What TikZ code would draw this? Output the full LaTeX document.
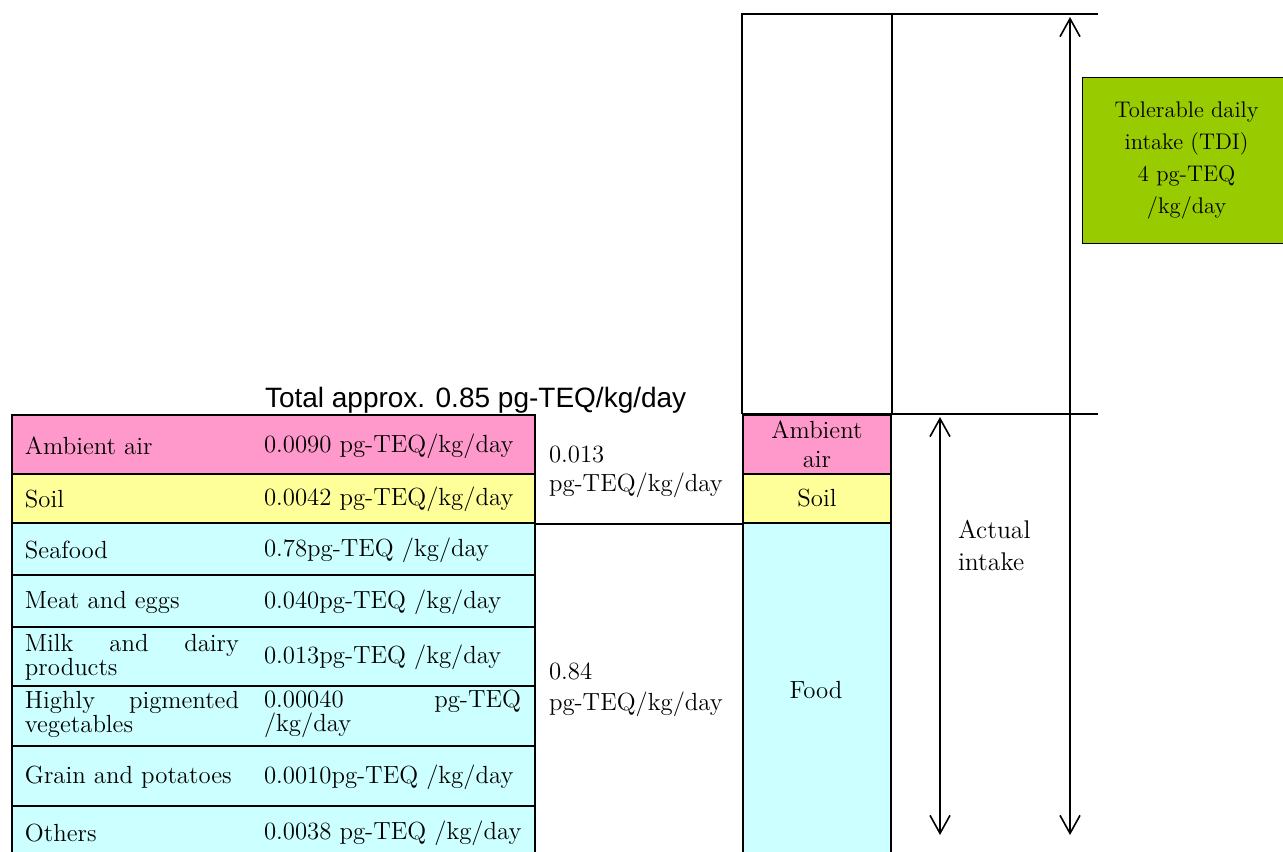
\documentclass[tikz,border=0pt]{standalone}
\usepackage{xcolor}
\usepackage{fontspec}
\newfontfamily\arialfont{Liberation Sans}
\usetikzlibrary{arrows.meta}
\definecolor{airpink}{HTML}{FF99CC}
\definecolor{soilyellow}{HTML}{FFFF99}
\definecolor{foodcyan}{HTML}{CCFFFF}
\definecolor{tdigreen}{HTML}{99CC00}

\begin{document}
\begin{tikzpicture}[x=0.5pt,y=-0.5pt,
			every node/.style={inner sep=0pt,font=\fontsize{12.4}{12}\selectfont},
			cell/.style={draw,line width=1pt,anchor=north west,minimum width=261.5pt},
			barcell/.style={draw,line width=1pt,anchor=north west,minimum width=74pt},
			txt/.style={anchor=west,align=left},
			barb/.style={line width=0.8pt,{Straight Barb[length=9pt,width=10pt]}-{Straight Barb[length=9pt,width=10pt]}},
			line width=1pt]
		\useasboundingbox (0,0) rectangle (1283,851);
		% table on the left
		\node[cell,fill=airpink,minimum height=29.5pt] (air) at (11,414) {};
		\node[cell,fill=soilyellow,minimum height=24.5pt] (soil) at (11,473) {};
		\node[cell,fill=foodcyan,minimum height=26pt] (seafood) at (11,522) {};
		\node[cell,fill=foodcyan,minimum height=26pt] (meat) at (11,574) {};
		\node[cell,fill=foodcyan,minimum height=29.5pt] (milk) at (11,626) {};
		\node[cell,fill=foodcyan,minimum height=30pt] (veg) at (11,685) {};
		\node[cell,fill=foodcyan,minimum height=30pt] (grain) at (11,745) {};
		\node[cell,fill=foodcyan,minimum height=30pt] (others) at (11,805) {};
		\node[txt] (airname) at (24,446) {Ambient air};
		\node[txt] (soilname) at (24,499) {Soil};
		\node[txt] (seafoodname) at (24,550) {Seafood};
		\node[txt] (meatname) at (24,602) {Meat and eggs};
		\node[txt,text width=107pt] (milkname) at (24,657) {Milk\hfill and\hfill dairy\\products};
		\node[txt,text width=107pt] (vegname) at (24,714) {Highly\hfill pigmented\\vegetables};
		\node[txt] (grainname) at (24,777) {Grain and potatoes};
		\node[txt] (othersname) at (24,833) {Others};
		\node[txt] (airval) at (263,446) {0.0090 pg-TEQ/kg/day};
		\node[txt] (soilval) at (263,499) {0.0042 pg-TEQ/kg/day};
		\node[txt] (seafoodval) at (263,550) {0.78pg-TEQ /kg/day};
		\node[txt] (meatval) at (263,602) {0.040pg-TEQ /kg/day};
		\node[txt] (milkval) at (263,657) {0.013pg-TEQ /kg/day};
		\node[txt,text width=128.5pt] (vegval) at (263,714) {0.00040\hfill pg-TEQ\\/kg/day};
		\node[txt] (grainval) at (263,777) {0.0010pg-TEQ /kg/day};
		\node[txt] (othersval) at (263,833) {0.0038 pg-TEQ /kg/day};
		\node[anchor=base west,font=\arialfont\fontsize{14}{14}\selectfont] (total) at (264,407) {Total approx. 0.85 pg-TEQ/kg/day};
		% sums
		\node[txt,font=\fontsize{12.4}{14.5}\selectfont] (sumair) at (548,472) {0.013\\pg-TEQ/kg/day};
		\node[txt,font=\fontsize{12.4}{15.5}\selectfont] (sumfood) at (548,690) {0.84\\pg-TEQ/kg/day};
		% bar
		\node[barcell,fill=airpink,minimum height=29.5pt,align=center,font=\fontsize{12.4}{14.5}\selectfont] (barair) at (742,414) {Ambient\\air};
		\node[barcell,fill=soilyellow,minimum height=24.5pt] (barsoil) at (742,473) {Soil};
		\node[barcell,fill=foodcyan,minimum height=168pt] (barfood) at (742,522) {};
		\node (foodname) at (816,690) {Food};
		\draw (soil.south east) -- (barsoil.south west);
		\coordinate (tdicorner) at (1098,14);
		\coordinate (actcorner) at (1098,414);
		\draw (barair.north west) -- (barair.north west |- tdicorner) -- (tdicorner);
		\draw (barair.north east) -- (barair.north east |- tdicorner);
		\draw (barair.north west) -- (actcorner);
		% arrows
		\coordinate (acttop) at (940,417);
		\coordinate (actbot) at (940,835);
		\coordinate (tditop) at (1070,17);
		\coordinate (tdibot) at (1070,835);
		\draw[barb] (acttop) -- (actbot);
		\draw[barb] (tditop) -- (tdibot);
		\node[txt,font=\fontsize{12.8}{16}\selectfont] (actual) at (957,545) {Actual\\intake};
		\node[draw,fill=tdigreen,line width=0.6pt,anchor=north west,minimum width=104pt,minimum height=83pt,align=center,font=\fontsize{11.3}{16}\selectfont] (tdi) at (1082,77) {Tolerable daily\\intake (TDI)\\4 pg-TEQ\\/kg/day};
\end{tikzpicture}
\end{document}
